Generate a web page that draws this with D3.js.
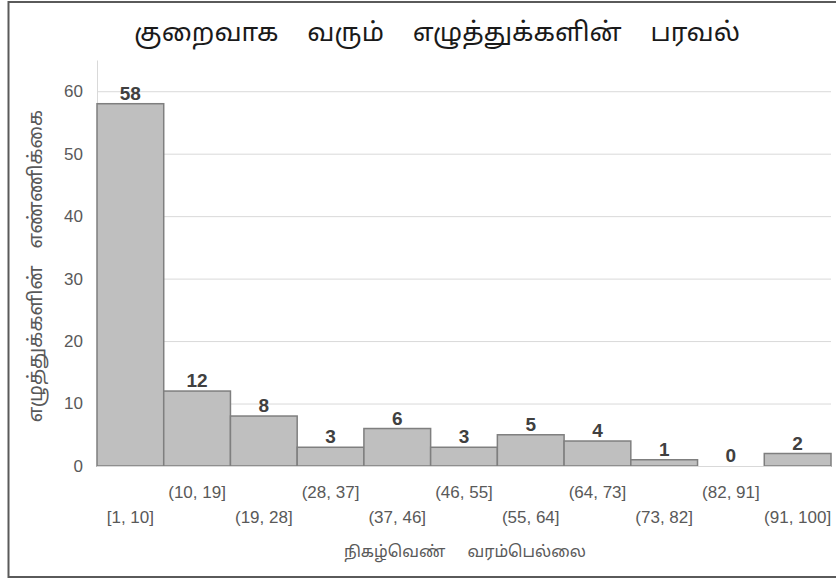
<!DOCTYPE html>
<html>
<head>
<meta charset="utf-8">
<script src="https://cdn.jsdelivr.net/npm/d3@7"></script>
<style>
  html, body { margin: 0; padding: 0; background: #fff; }
  svg { display: block; }
</style>
</head>
<body>
<svg id="chart" width="836" height="580"></svg>
<script>
// Frequency bins and their counts
const bins = ["[1, 10]", "(10, 19]", "(19, 28]", "(28, 37]", "(37, 46]", "(46, 55]",
              "(55, 64]", "(64, 73]", "(73, 82]", "(82, 91]", "(91, 100]"];
const counts = [58, 12, 8, 3, 6, 3, 5, 4, 1, 0, 2];
const yTicks = [0, 10, 20, 30, 40, 50, 60];

const titleText = "குறைவாக வரும் எழுத்துக்களின் பரவல்";
const xTitle = "நிகழ்வெண் வரம்பெல்லை";
const yTitle = "எழுத்துக்களின் எண்ணிக்கை";

const svg = d3.select("#chart");
const font = "'Liberation Sans', Arial, sans-serif";
const tamil = "'Noto Sans Tamil', 'Noto Sans', sans-serif";

const plot = { left: 97, right: 831, top: 60, bottom: 466 };

const x = d3.scaleBand().domain(bins).range([plot.left, plot.right]).padding(0);
const y = d3.scaleLinear().domain([0, 65]).range([plot.bottom, plot.top]);

// outer frame
svg.append("rect")
  .attr("x", 8.5).attr("y", 2).attr("width", 840).attr("height", 575)
  .attr("fill", "none").attr("stroke", "#5a5a5a").attr("stroke-width", 2);

// horizontal gridlines
svg.append("g").selectAll("line")
  .data(yTicks.filter(t => t > 0))
  .join("line")
  .attr("x1", plot.left).attr("x2", plot.right)
  .attr("y1", d => y(d) + 0.5).attr("y2", d => y(d) + 0.5)
  .attr("stroke", "#d9d9d9").attr("stroke-width", 1);

// y axis
const yAxis = svg.append("g")
  .attr("transform", `translate(${plot.left},0)`)
  .call(d3.axisLeft(y).tickValues(yTicks).tickSize(0).tickPadding(14));
yAxis.select(".domain").attr("stroke", "#d9d9d9");
yAxis.selectAll("text")
  .attr("font-family", font).attr("font-size", 17).attr("fill", "#595959");

// bars
svg.append("g").selectAll("rect")
  .data(counts)
  .join("rect")
  .attr("x", (d, i) => x(bins[i]))
  .attr("y", d => y(d))
  .attr("width", x.bandwidth())
  .attr("height", d => y(0) - y(d))
  .attr("fill", "#bfbfbf")
  .attr("stroke", "#7f7f7f")
  .attr("stroke-width", 1.5);

// baseline
svg.append("line")
  .attr("x1", plot.left).attr("x2", plot.right)
  .attr("y1", y(0) + 0.5).attr("y2", y(0) + 0.5)
  .attr("stroke", "#d9d9d9");

// value labels
svg.append("g").selectAll("text")
  .data(counts)
  .join("text")
  .attr("x", (d, i) => x(bins[i]) + x.bandwidth() / 2)
  .attr("y", d => y(d) - 4)
  .attr("text-anchor", "middle")
  .attr("font-family", font).attr("font-size", 19).attr("font-weight", "bold")
  .attr("fill", "#404040")
  .text(d => d);

// category labels, staggered over two rows
svg.append("g").selectAll("text")
  .data(bins)
  .join("text")
  .attr("x", d => x(d) + x.bandwidth() / 2)
  .attr("y", (d, i) => i % 2 === 0 ? 523 : 498)
  .attr("text-anchor", "middle")
  .attr("font-family", font).attr("font-size", 17).attr("fill", "#595959")
  .text(d => d);

// titles
svg.append("text")
  .attr("x", 437).attr("y", 41)
  .attr("text-anchor", "middle")
  .attr("font-family", tamil)
  .attr("font-size", 26).attr("fill", "#1a1a1a")
  .attr("word-spacing", 22)
  .text(titleText);

svg.append("text")
  .attr("x", 465).attr("y", 557)
  .attr("text-anchor", "middle")
  .attr("font-family", tamil)
  .attr("font-size", 16).attr("fill", "#595959")
  .attr("word-spacing", 18)
  .text(xTitle);

svg.append("text")
  .attr("transform", "translate(42,266) rotate(-90)")
  .attr("text-anchor", "middle")
  .attr("font-family", tamil)
  .attr("font-size", 19.5).attr("fill", "#595959")
  .attr("word-spacing", 12)
  .text(yTitle);
</script>
</body>
</html>
